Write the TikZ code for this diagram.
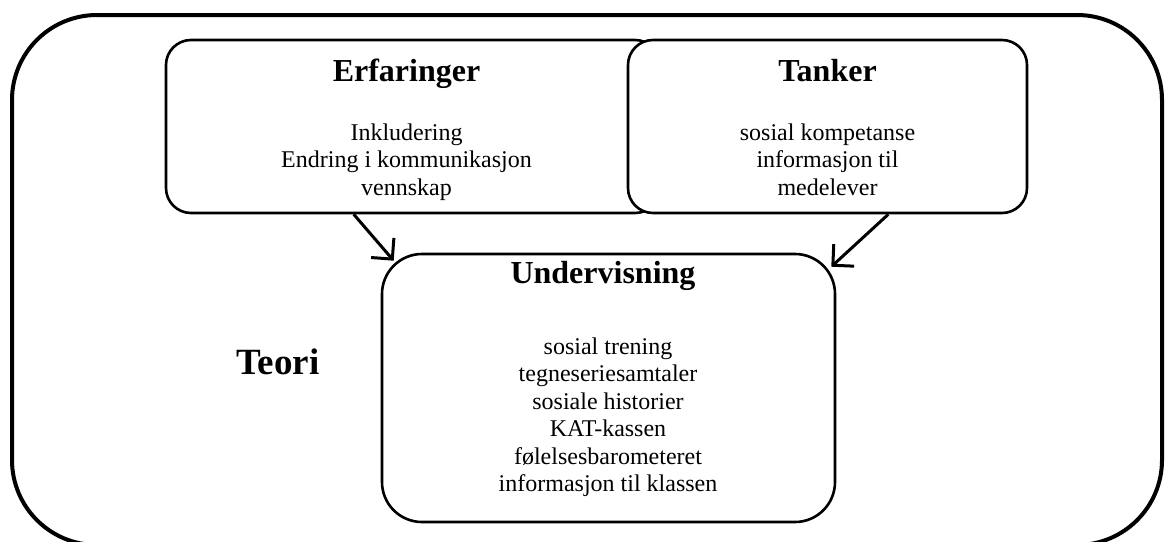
\documentclass[tikz,border=0pt]{standalone}
\usepackage{fontspec}
\setmainfont{Liberation Serif}
\usetikzlibrary{arrows.meta}
\begin{document}
\begin{tikzpicture}[x=1pt,y=-1pt,
 box/.style={draw,line width=2.6pt,rounded corners=25pt,fill=white,rectangle,inner sep=0pt},
 bodytxt/.style={font=\fontsize{24}{27.5}\selectfont,align=center,anchor=base,inner sep=0pt},
 headtxt/.style={font=\bfseries\fontsize{32}{36}\selectfont,anchor=base,inner sep=0pt},
 arr/.style={line width=3pt,-{Straight Barb[length=15pt,width=30pt,line width=3pt]}}
]
\useasboundingbox (0,0) rectangle (1174,541);
\clip (0,0) rectangle (1174,541);
\node[draw,rectangle,line width=4pt,rounded corners=85pt,minimum width=1150pt,minimum height=530pt,inner sep=0pt] (outer) at (587,280) {};
\node[box,minimum width=494pt,minimum height=173pt] (erf) at (413,126.5) {};
\node[box,minimum width=399pt,minimum height=173pt] (tan) at (827.5,126.5) {};
\node[box,rounded corners=40pt,minimum width=453pt,minimum height=268pt] (und) at (608.5,388) {};
\draw[arr] ([xshift=189pt]erf.south west) -- ([xshift=13pt,yshift=-8pt]und.north west);
\draw[arr] ([xshift=-140pt]tan.south east) -- ([xshift=-5pt,yshift=-14pt]und.north east);
\node[headtxt] (erfh) at (406.5,81) {Erfaringer};
\node[bodytxt] (erfb) at (406.5,195) {Inkludering\\Endring i kommunikasjon\\vennskap};
\node[headtxt] (tanh) at (827.5,81) {Tanker};
\node[bodytxt] (tanb) at (827.5,195) {sosial kompetanse\\informasjon til\\medelever};
\node[headtxt] (undh) at (603,283) {Undervisning};
\node[bodytxt] (undb) at (608,491.5) {sosial trening\\tegneseriesamtaler\\sosiale historier\\KAT-kassen\\følelsesbarometeret\\informasjon til klassen};
\node[font=\bfseries\fontsize{37}{40}\selectfont,anchor=base,inner sep=0pt] (teori) at (278,374) {Teori};
\end{tikzpicture}
\end{document}
